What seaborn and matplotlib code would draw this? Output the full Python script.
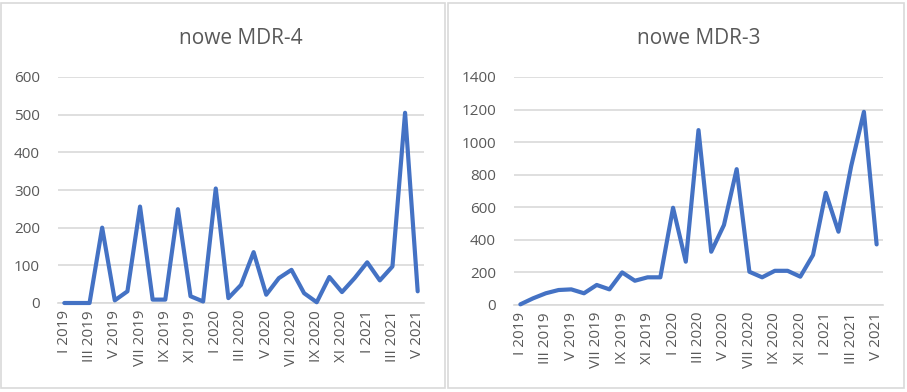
import matplotlib
matplotlib.use('Agg')
import numpy as np
import matplotlib.pyplot as plt
from matplotlib.patches import Rectangle
import seaborn as sns

# months I 2019 .. V 2021
roman = ['I', 'II', 'III', 'IV', 'V', 'VI', 'VII', 'VIII', 'IX', 'X', 'XI', 'XII']
months = [f'{m} {y}' for y in (2019, 2020, 2021) for m in roman][:29]

mdr4 = [0, 0, 0, 200, 7, 31, 256, 9, 9, 249, 18, 4, 304, 13, 48, 135,
        22, 66, 88, 26, 2, 69, 29, 66, 108, 60, 97, 505, 31]
mdr3 = [4, 41, 72, 92, 96, 72, 123, 96, 200, 149, 170, 170, 597, 266, 1074, 327,
        491, 834, 204, 170, 210, 210, 174, 307, 689, 450, 853, 1186, 372]

titles = ['nowe MDR-4', 'nowe MDR-3']
ymax = [600, 1400]
ystep = [100, 200]

sns.set_theme(style='white')
plt.rcParams['font.family'] = ['Open Sans', 'DejaVu Sans']

LINE = '#4472C4'
GRID = '#d9d9d9'
TXT = '#595959'

fig = plt.figure(figsize=(9.07, 3.92), dpi=100)

# panel borders (chart area frames)
for x0, x1 in [(1, 445), (448, 904)]:
    fig.add_artist(Rectangle((x0 / 907, 1 - 388 / 392), (x1 - x0) / 907, (388 - 3) / 392,
                             transform=fig.transFigure, fill=False,
                             edgecolor=GRID, linewidth=1.2))

boxes = [[58 / 907, 1 - 303 / 392, 366 / 907, 226 / 392],
         [514 / 907, 1 - 305 / 392, 369 / 907, 228 / 392]]

x = np.arange(len(months))
for box, vals, title, top, step in zip(boxes, [mdr4, mdr3], titles, ymax, ystep):
    ax = fig.add_axes(box)
    sns.lineplot(x=x, y=vals, ax=ax, color=LINE, linewidth=3, clip_on=False, zorder=3)
    ax.set_xlim(-0.5, len(months) - 0.5)
    ax.set_ylim(0, top)
    ax.set_yticks(np.arange(0, top + 1, step))
    ax.yaxis.grid(True, color=GRID, linewidth=1.2)
    ax.set_axisbelow(True)
    ax.set_xticks(x[::2])
    ax.set_xticklabels(months[::2], rotation=90)
    ax.tick_params(axis='both', length=0, labelsize=11, labelcolor=TXT)
    ax.tick_params(axis='x', pad=5)
    ax.tick_params(axis='y', pad=13)
    for s in ['top', 'right', 'left']:
        ax.spines[s].set_visible(False)
    ax.spines['bottom'].set_color(GRID)
    ax.spines['bottom'].set_linewidth(1.2)
    ax.set_title(title, fontsize=15, color=TXT, pad=24)

fig.savefig('out.png', dpi=100)
